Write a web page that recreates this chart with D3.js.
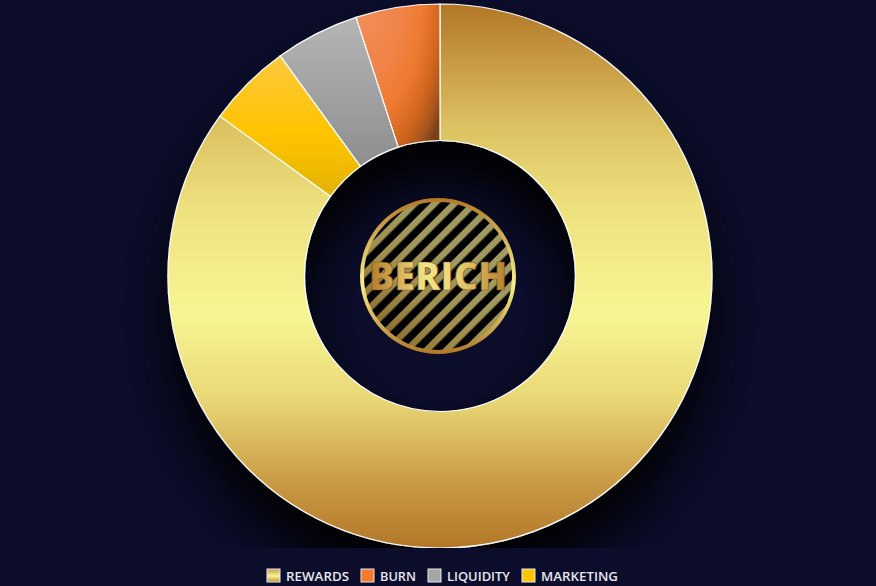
<!DOCTYPE html>
<html>
<head>
<meta charset="utf-8">
<script src="https://d3js.org/d3.v7.min.js"></script>
<style>
html, body { margin: 0; padding: 0; background: #0b0d2b; overflow: hidden; }
svg { display: block; }
.legend-text { font-family: "Open Sans", sans-serif; font-size: 12.5px; font-weight: 600; fill: #e6e6ee; }
</style>
</head>
<body>
<svg id="chart"></svg>
<script>
var width = 876, height = 586;

var labels = ["REWARDS", "BURN", "LIQUIDITY", "MARKETING"];
var values = [85, 5, 5, 5];
// slices run clockwise from 12 o'clock in this order, legend keeps the order above
var sliceOrder = ["REWARDS", "MARKETING", "LIQUIDITY", "BURN"];
var legendX = [267, 361, 428, 522];
var legendWidths = [63, 36, 63, 77];
var logoText = "BERICH";

var cx = 440, cy = 276, outerR = 272, innerR = 135.5, logoR = 78;

var svg = d3.select("#chart").attr("width", width).attr("height", height);
var defs = svg.append("defs");

function linear(id, x1, y1, x2, y2, stops, user) {
    var g = defs.append("linearGradient").attr("id", id)
        .attr("x1", x1).attr("y1", y1).attr("x2", x2).attr("y2", y2);
    if (user) g.attr("gradientUnits", "userSpaceOnUse");
    stops.forEach(s => g.append("stop").attr("offset", s[0]).attr("stop-color", s[1]));
}

// slice gradients are in the slice group's space, centre at 0,0
var goldStops = [[0, "#b27727"], [0.22, "#dcc060"], [0.38, "#eee27f"], [0.57, "#f7f593"], [0.72, "#ead977"], [0.88, "#c99a45"], [1, "#b27727"]];
linear("gold", 0, -outerR, 0, outerR, goldStops, true);
linear("marketing", 0, -221, 0, -80, [[0, "#ffc840"], [0.55, "#ffc400"], [1, "#e3b300"]], true);
linear("liquidity", 0, -258, 0, -110, [[0, "#b5b5b5"], [1, "#8e8e8e"]], true);

var burn = defs.append("radialGradient").attr("id", "burn").attr("gradientUnits", "userSpaceOnUse")
    .attr("cx", 0).attr("cy", 0).attr("r", 1)
    .attr("gradientTransform", "translate(-75,-290) scale(95,215)");
[[0, "#f59060"], [0.4, "#f08448"], [0.62, "#ee7a30"], [0.8, "#d2661f"], [0.92, "#a9551c"], [1, "#7a4018"]]
    .forEach(s => burn.append("stop").attr("offset", s[0]).attr("stop-color", s[1]));

var fills = {REWARDS: "url(#gold)", MARKETING: "url(#marketing)", LIQUIDITY: "url(#liquidity)", BURN: "url(#burn)"};
var legendFills = {REWARDS: "url(#goldKey)", BURN: "#f47b2e", LIQUIDITY: "#a6a6a6", MARKETING: "#ffc400"};
linear("goldKey", 0, 0, 0, 1, [[0, "#c9a04a"], [0.55, "#f7f594"], [1, "#c08a35"]]);

// soft shadow, cut off at the chart area
var shadow = defs.append("filter").attr("id", "shadow")
    .attr("filterUnits", "userSpaceOnUse").attr("x", 0).attr("y", 0).attr("width", width).attr("height", height);
shadow.append("feDropShadow").attr("dx", 0).attr("dy", 38).attr("stdDeviation", 28)
    .attr("flood-color", "#000").attr("flood-opacity", 1);
defs.append("clipPath").attr("id", "area").append("rect")
    .attr("x", 0).attr("y", 0).attr("width", width).attr("height", 548);

var pie = d3.pie()
    .sort((a, b) => sliceOrder.indexOf(a.label) - sliceOrder.indexOf(b.label))
    .value(d => d.value);
var arc = d3.arc().innerRadius(innerR).outerRadius(outerR);
var rows = labels.map((l, i) => ({label: l, value: values[i]}));

svg.append("g").attr("clip-path", "url(#area)")
    .append("g").attr("filter", "url(#shadow)")
    .append("g").attr("transform", `translate(${cx},${cy})`)
    .selectAll("path")
    .data(pie(rows))
    .enter()
    .append("path")
    .attr("d", arc)
    .attr("fill", d => fills[d.data.label])
    .attr("stroke", "#fff")
    .attr("stroke-width", 1.2);

// centre logo
var stripes = defs.append("pattern").attr("id", "stripes").attr("patternUnits", "userSpaceOnUse")
    .attr("width", 14).attr("height", 14).attr("patternTransform", "rotate(45)");
stripes.append("rect").attr("width", 14).attr("height", 14).attr("fill", "#000");
stripes.append("rect").attr("width", 6.5).attr("height", 14).attr("fill", "#fff");
defs.append("mask").attr("id", "stripeMask").attr("maskUnits", "userSpaceOnUse")
    .attr("x", 0).attr("y", 0).attr("width", width).attr("height", height)
    .append("rect")
    .attr("x", cx - logoR).attr("y", cy - logoR).attr("width", logoR * 2).attr("height", logoR * 2)
    .attr("fill", "url(#stripes)");
linear("stripeFill", cx - logoR, cy + logoR, cx + logoR, cy - logoR,
    [[0, "#7d5a1f"], [0.35, "#a08d4c"], [0.6, "#a09a5e"], [0.85, "#a09a5e"], [1, "#8a6a28"]], true);
linear("ring", 0, cy - logoR, 0, cy + logoR, [[0, "#b27727"], [0.55, "#f8f08c"], [1, "#b27727"]], true);
linear("word", cx - 72, 0, cx + 72, 0,
    [[0, "#b27727"], [0.4, "#f3e487"], [0.6, "#ecd577"], [1, "#b27727"]], true);

var logoX = cx - 2;
var logo = svg.append("g");
logo.append("circle").attr("cx", logoX).attr("cy", cy).attr("r", logoR - 2).attr("fill", "#000");
logo.append("circle").attr("cx", logoX).attr("cy", cy).attr("r", logoR - 3)
    .attr("fill", "url(#stripeFill)").attr("mask", "url(#stripeMask)");
logo.append("circle").attr("cx", logoX).attr("cy", cy).attr("r", logoR - 2)
    .attr("fill", "none").attr("stroke", "url(#ring)").attr("stroke-width", 4);
logo.append("text")
    .attr("x", logoX).attr("y", cy + 14)
    .attr("text-anchor", "middle")
    .attr("font-family", "'Open Sans', sans-serif")
    .attr("font-weight", 800)
    .attr("font-size", 39)
    .attr("textLength", 138)
    .attr("lengthAdjust", "spacingAndGlyphs")
    .attr("fill", "url(#word)")
    .attr("stroke", "#7d5520")
    .attr("stroke-width", 0.7)
    .text(logoText);

// legend
var legend = svg.append("g").selectAll("g")
    .data(labels)
    .enter()
    .append("g")
    .attr("transform", (d, i) => `translate(${legendX[i]},569)`);
legend.append("rect")
    .attr("width", 13).attr("height", 13)
    .attr("fill", d => legendFills[d])
    .attr("stroke", "#e8e8ee").attr("stroke-width", 1);
legend.append("text")
    .attr("class", "legend-text")
    .attr("x", 19).attr("y", 12)
    .attr("textLength", (d, i) => legendWidths[i])
    .attr("lengthAdjust", "spacingAndGlyphs")
    .text(d => d);
</script>
</body>
</html>
